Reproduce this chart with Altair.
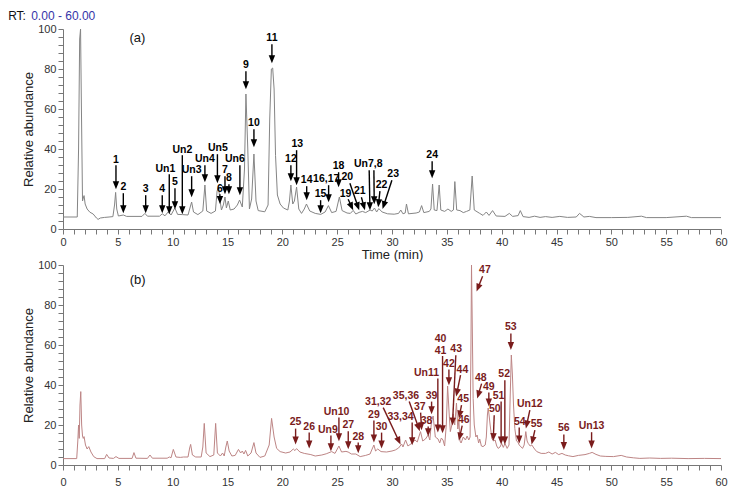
import math
import altair as alt
import pandas as pd

PANEL_W = 658
PANEL_H = 200
PX_T = PANEL_W / 60.0
PX_V = PANEL_H / 100.0
HEAD = 8.0

# ---------------- panel (a) trace ----------------
A_POINTS = [
    (0.0, 6.0), (1.3, 6.0), (1.42, 40), (1.52, 95), (1.6, 100), (1.68, 60), (1.78, 14), (1.85, 15.5),
    (1.92, 16.7), (2.02, 12.5), (2.2, 10), (2.45, 8.4), (2.75, 7.5), (3.05, 5.5), (3.2, 4.8), (3.4, 5.5),
    (3.8, 5.8), (4.2, 6.0), (4.55, 6.2), (4.7, 12), (4.8, 18.3), (4.9, 10), (5.05, 6.5), (5.5, 7.0),
    (5.8, 6.3), (7.2, 6.3), (7.47, 7.8), (7.7, 6.4), (8.8, 6.4), (9.05, 7.6), (9.3, 6.6), (9.6, 8.6),
    (9.85, 7), (10.05, 9), (10.2, 10.5), (10.45, 7.3), (10.9, 7.2), (11.4, 7.0), (11.6, 11), (11.73, 13.5),
    (11.9, 8.5), (12.3, 7.2), (12.75, 9), (12.94, 22), (13.1, 9), (13.5, 7.8), (13.9, 9), (14.05, 19),
    (14.18, 21), (14.3, 15), (14.45, 9.5), (14.62, 12), (14.77, 16), (14.9, 10.5), (15.07, 14), (15.25, 9.5),
    (15.6, 10), (15.9, 12), (16.1, 14.5), (16.35, 11), (16.55, 30), (16.68, 67.5), (16.85, 40), (17.0, 10),
    (17.2, 15), (17.41, 37.5), (17.6, 14), (17.8, 9.2), (18.4, 8.6), (18.7, 12), (18.85, 55), (19.0, 80),
    (19.12, 80.5), (19.25, 70), (19.38, 36.7), (19.55, 17), (19.8, 12.5), (20.1, 10.5), (20.5, 9.5),
    (20.65, 14), (20.78, 22), (20.95, 12.5), (21.1, 14), (21.3, 21), (21.5, 10), (21.75, 7.8), (22.0, 10),
    (22.2, 12.5), (22.5, 9), (23.0, 7.8), (23.5, 7.3), (23.9, 8.5), (24.2, 11.7), (24.5, 8.2), (24.9, 8.8),
    (25.2, 16), (25.45, 9.2), (25.9, 8), (26.2, 7.8), (26.46, 9.3), (26.7, 7.5), (27.0, 8.3), (27.3, 8.8),
    (27.6, 8.2), (28.0, 9.5), (28.2, 9), (28.4, 10.5), (28.6, 8.5), (28.8, 10.2), (29.1, 8.5), (29.6, 7.6),
    (30.2, 7.4), (30.6, 7.8), (30.8, 9.5), (31.0, 7.6), (31.2, 8), (31.32, 12.5), (31.5, 7.6), (32.2, 8),
    (32.5, 8.5), (32.7, 11.7), (32.9, 8.2), (33.4, 8.8), (33.55, 10), (33.7, 22.5), (33.85, 9.5), (34.1, 9.2),
    (34.3, 22), (34.45, 9.5), (34.8, 8.8), (35.1, 10), (35.4, 8.8), (35.6, 9.5), (35.73, 23.7), (35.9, 9.5),
    (36.2, 9.2), (36.5, 8.2), (36.8, 8.8), (37.1, 9.5), (37.31, 26.5), (37.5, 9.5), (38.0, 7.8), (38.3, 6.8),
    (38.6, 8.5), (38.85, 6.8), (39.17, 9.2), (39.5, 6.5), (40.3, 6.3), (40.7, 7.8), (41.0, 6.3), (41.5, 6.7),
    (41.7, 9.2), (41.95, 6.2), (42.5, 5.8), (43.0, 6.4), (43.5, 5.8), (44.0, 6.2), (44.6, 5.8), (45.3, 6.3),
    (46.0, 5.8), (46.8, 6.0), (47.1, 7.8), (47.5, 6.0), (48.0, 6.3), (48.6, 5.7), (50.0, 5.7), (51.5, 5.8),
    (52.75, 6.4), (53.2, 5.7), (55.0, 5.7), (56.85, 6.4), (57.3, 5.7), (60.0, 5.7),
]

# ---------------- panel (b) trace ----------------
B_POINTS = [
    (0.0, 3.2), (1.25, 3.2), (1.35, 12), (1.42, 20), (1.48, 13.3), (1.55, 30), (1.62, 36.7), (1.7, 20),
    (1.78, 14.5), (1.85, 13.3), (1.92, 14.2), (2.05, 10), (2.2, 8), (2.35, 9.2), (2.55, 6.5), (2.8, 4.2),
    (3.1, 3.2), (3.8, 3.2), (3.98, 5.3), (4.2, 3.5), (4.6, 3.3), (4.83, 4.2), (5.1, 3.3), (6.3, 3.3),
    (6.47, 6.2), (6.65, 3.4), (7.7, 3.3), (7.93, 5), (8.15, 3.4), (9.5, 3.4), (9.7, 4), (9.85, 3.6),
    (10.06, 7.8), (10.3, 4), (10.7, 3.8), (11.0, 4), (11.4, 4), (11.55, 8.5), (11.64, 10.3), (11.8, 5),
    (12.1, 4), (12.6, 4), (12.75, 9), (12.88, 20.8), (13.05, 6), (13.4, 4.2), (13.75, 5), (13.92, 20.8),
    (14.08, 6), (14.35, 4.5), (14.55, 6), (14.7, 4.5), (14.85, 9), (14.98, 12), (15.15, 7), (15.4, 4.5),
    (15.7, 4.8), (16.0, 7.8), (16.2, 6), (16.35, 7), (16.5, 5.5), (16.65, 7.3), (16.85, 4.5), (17.15, 6),
    (17.41, 11.2), (17.6, 6), (17.96, 3.8), (18.4, 4.5), (18.8, 10), (19.02, 23.3), (19.25, 14), (19.48, 8.3),
    (19.8, 6.7), (20.3, 6), (20.7, 6.5), (21.0, 8), (21.15, 7.2), (21.3, 8.2), (21.6, 6.5), (22.0, 5.8),
    (22.6, 5.2), (23.0, 4.5), (23.6, 5), (24.0, 5.6), (24.5, 6.7), (24.8, 5.8), (25.16, 9.5), (25.4, 6.5),
    (25.8, 6.8), (26.0, 6.5), (26.3, 5.5), (26.7, 5.5), (27.1, 4.2), (27.6, 4.8), (28.0, 5.5), (28.15, 7.5),
    (28.35, 10), (28.5, 7), (28.7, 8), (29.0, 6.7), (29.5, 6.5), (30.0, 7), (30.3, 7.5), (30.6, 8.5),
    (30.88, 10.5), (31.0, 9), (31.24, 12.5), (31.45, 9.5), (31.8, 10.8), (32.1, 12.5), (32.3, 11.5),
    (32.6, 16.7), (32.8, 12), (33.05, 13), (33.3, 15), (33.45, 12.5), (33.6, 21.7), (33.75, 24.5),
    (33.95, 14), (34.2, 13), (34.35, 11), (34.5, 13.5), (34.65, 12.5), (34.8, 9.5), (34.95, 20),
    (35.07, 39.5), (35.22, 25), (35.32, 16.7), (35.45, 20), (35.58, 25.5), (35.72, 20), (35.88, 31),
    (36.0, 18), (36.1, 22), (36.2, 12), (36.3, 11), (36.5, 14), (36.7, 12.5), (36.85, 14.5), (37.0, 12.5),
    (37.12, 14), (37.2, 60), (37.25, 100), (37.32, 70), (37.4, 33.3), (37.5, 20), (37.65, 14), (37.76, 15),
    (37.9, 11), (38.0, 13), (38.15, 9.5), (38.3, 9.2), (38.5, 10), (38.6, 14), (38.7, 25), (38.77, 28.5),
    (38.85, 25), (38.95, 20), (39.1, 13.3), (39.25, 12), (39.4, 12.5), (39.55, 9.5), (39.68, 8.3),
    (39.85, 9), (40.0, 10.8), (40.15, 8.8), (40.3, 10.8), (40.5, 8.3), (40.67, 10), (40.78, 35), (40.88, 55),
    (40.98, 45), (41.08, 30), (41.2, 18.3), (41.35, 12), (41.45, 11.7), (41.6, 10), (41.9, 8.3), (42.05, 10),
    (42.2, 16.7), (42.32, 12), (42.42, 10.8), (42.6, 9.5), (42.75, 10), (43.0, 8), (43.2, 6.7), (43.6, 5.8),
    (44.0, 5.8), (44.3, 6.5), (44.6, 5.5), (44.9, 6.3), (45.2, 5.2), (45.5, 5.8), (45.8, 5.0), (46.1, 4.6),
    (46.5, 4.2), (47.0, 4.8), (47.6, 5.2), (48.0, 5.8), (48.25, 6.3), (48.6, 5.3), (49.0, 4.5), (49.5, 4.3),
    (50.2, 4.2), (50.9, 4.8), (51.4, 4.0), (52.0, 3.6), (52.6, 3.3), (53.5, 3.5), (54.5, 3.3), (55.5, 3.4),
    (57.0, 3.2), (58.5, 3.3), (60.0, 3.2),
]

# ---------------- annotations (a) ----------------
A_LABELS = [
    ("1", 4.83, 34.4), ("2", 5.5, 20.9), ("3", 7.54, 19.9), ("4", 9.05, 19.9), ("Un1", 9.33, 29.9),
    ("5", 10.21, 23.4), ("Un2", 10.88, 39.4), ("Un3", 11.73, 29.4), ("Un4", 12.94, 34.9), ("Un5", 14.13, 40.4),
    ("6", 14.31, 19.9), ("7", 14.77, 29.4), ("8", 15.13, 25.4), ("Un6", 15.68, 34.9), ("9", 16.68, 81.9),
    ("10", 17.41, 52.9), ("11", 19.05, 95.4), ("12", 20.78, 34.9), ("13", 21.36, 42.4), ("14", 22.22, 24.4),
    ("15", 23.49, 17.4), ("16,17", 24.0, 24.9), ("18", 25.13, 31.4), ("19", 25.77, 17.4), ("20", 25.92, 25.9),
    ("21", 27.07, 18.9), ("Un7,8", 27.83, 32.4), ("22", 29.05, 21.9), ("23", 30.11, 27.4), ("24", 33.66, 36.9),
]
A_ARROWS = [
    (4.83, 31.9, 4.83, 19.9), (5.5, 17.9, 5.5, 7.9), (7.54, 16.9, 7.54, 7.9), (9.05, 16.9, 9.05, 7.9),
    (9.69, 27.4, 9.69, 7.4), (10.21, 20.4, 10.21, 9.9), (10.88, 36.9, 10.88, 7.4), (11.73, 26.4, 11.73, 15.9),
    (12.94, 31.9, 12.94, 23.4), (14.08, 37.4, 14.08, 22.9), (14.31, 17.4, 14.31, 12.5), (14.77, 26.4, 14.77, 17.4),
    (15.13, 22.4, 15.13, 17.4), (16.13, 31.9, 16.13, 16.9), (16.68, 78.9, 16.68, 69.9), (17.41, 49.9, 17.41, 40.9),
    (19.05, 92.4, 19.05, 82.9), (20.78, 31.9, 20.78, 23.9), (21.3, 39.4, 21.3, 21.9), (22.22, 21.4, 22.22, 14.4),
    (23.49, 14.4, 23.49, 7.9), (24.22, 21.9, 24.22, 13.4), (25.13, 28.4, 25.13, 20.9), (26.0, 14.9, 26.46, 9.4),
    (26.16, 22.9, 27.01, 9.4), (27.21, 15.9, 27.53, 9.4), (27.92, 29.4, 27.99, 9.4), (28.35, 29.4, 28.38, 12.4),
    (28.9, 18.9, 28.74, 10.9), (29.99, 24.4, 29.14, 10.0), (33.66, 33.9, 33.66, 25.4),
]

# ---------------- annotations (b) ----------------
B_LABELS = [
    ("25", 21.21, 21.3), ("26", 22.45, 19.2), ("Un9", 24.16, 17.5), ("Un10", 24.95, 26.7), ("27", 26.01, 20.0),
    ("28", 26.92, 13.8), ("29", 28.35, 25.0), ("30", 29.05, 18.8), ("31,32", 28.74, 31.7), ("33,34", 30.78, 23.8),
    ("35,36", 31.27, 34.7), ("37", 32.54, 29.2), ("38", 33.15, 22.2), ("39", 33.61, 34.7), ("Un11", 33.15, 45.8),
    ("40", 34.43, 63.0), ("41", 34.43, 56.8), ("42", 35.19, 50.5), ("43", 35.85, 57.8), ("44", 36.42, 47.7),
    ("45", 36.49, 32.8), ("46", 36.55, 22.5), ("47", 38.47, 97.5), ("48", 38.1, 43.7), ("49", 38.83, 39.2),
    ("50", 39.38, 28.0), ("51", 39.72, 34.5), ("52", 40.23, 45.3), ("53", 40.84, 68.8), ("54", 41.66, 21.7),
    ("Un12", 42.57, 30.3), ("55", 43.18, 20.3), ("56", 45.67, 18.3), ("Un13", 48.2, 19.5),
]
B_ARROWS = [
    (21.21, 18.2, 21.21, 10.2), (22.45, 16.2, 22.45, 8.2), (24.43, 14.7, 24.43, 6.9), (25.16, 23.7, 25.16, 11.9),
    (26.01, 16.9, 26.01, 7.9), (26.92, 11.2, 26.92, 5.9), (28.35, 22.2, 28.35, 11.2), (29.05, 16.2, 29.05, 8.2),
    (29.2, 28.7, 30.78, 10.2), (31.84, 21.2, 31.84, 9.9), (31.57, 31.7, 32.54, 16.9), (32.61, 26.2, 32.7, 17.4),
    (33.3, 19.2, 33.3, 14.4), (33.61, 31.7, 33.61, 25.4), (34.18, 43.2, 34.18, 16.2), (34.61, 54.5, 34.61, 15.9),
    (35.19, 47.7, 35.19, 39.9), (35.82, 54.9, 35.51, 19.7), (36.25, 44.9, 35.85, 34.2), (36.34, 29.9, 36.1, 23.3),
    (36.4, 19.7, 36.1, 12.2), (38.26, 94.4, 37.71, 86.7), (38.17, 40.7, 37.77, 33.3), (38.83, 36.2, 38.83, 29.2),
    (39.32, 24.9, 39.23, 12.0), (39.95, 31.7, 39.95, 10.3), (40.29, 42.4, 40.29, 10.3), (40.84, 65.7, 40.84, 57.5),
    (41.6, 18.7, 41.6, 10.8), (42.57, 27.4, 42.21, 18.3), (43.03, 17.4, 42.73, 10.3), (45.67, 15.2, 45.67, 7.5),
    (48.2, 16.4, 48.2, 8.3),
]

TAG_A = ("(a)", 6.79, 95.6)
TAG_B = ("(b)", 6.81, 92.5)
RT_TEXT = [("RT:", -5.0, 106.6, "#111111"), ("0.00 - 60.00", -2.9, 106.6, "#3535a8")]

FONT = "Liberation Sans"
HEAD_SHAPE = "M -0.8 -1 L 0.8 -1 L 0 1 Z"


def make_x_axis(label_pad):
    return alt.Axis(values=list(range(0, 61)),
                    labelExpr="datum.value % 5 === 0 ? datum.label : ''",
                    title="Time (min)", tickSize=5, labelOverlap=False, labelFlush=False,
                    labelPadding=label_pad, titlePadding=1)


Y_AXIS = alt.Axis(values=list(range(0, 101, 4)),
                  labelExpr="datum.value % 20 === 0 ? datum.label : ''",
                  title="Relative abundance", tickSize=5, labelOverlap=False, labelFlush=False,
                  labelPadding=2, titlePadding=2)


def arrow_frames(arrows):
    lines, heads = [], []
    for (t1, v1, t2, v2) in arrows:
        dx = (t2 - t1) * PX_T
        dy = -(v2 - v1) * PX_V
        L = math.hypot(dx, dy)
        ux, uy = dx / L, dy / L
        back = HEAD / 2.0
        tc = t2 - back * ux / PX_T
        vc = v2 + back * uy / PX_V
        ang = math.degrees(math.atan2(-ux, uy)) % 360
        lines.append({"t": t1, "v": v1, "t2": tc, "v2": vc})
        heads.append({"t": tc, "v": vc, "angle": ang})
    return pd.DataFrame(lines), pd.DataFrame(heads)


def panel(points, labels, arrows, line_color, note_color, tag, x_axis, extra=None):
    def xe():
        return alt.X("t:Q", scale=alt.Scale(domain=[0, 60], nice=False, zero=False), axis=x_axis)

    def ye():
        return alt.Y("v:Q", scale=alt.Scale(domain=[0, 100], nice=False, zero=False), axis=Y_AXIS)

    tr = pd.DataFrame(points, columns=["t", "v"])
    lab = pd.DataFrame(labels, columns=["label", "t", "v"])
    lines, heads = arrow_frames(arrows)
    layers = [
        alt.Chart(tr).mark_line(color=line_color, strokeWidth=1, clip=False).encode(x=xe(), y=ye()),
        alt.Chart(lines).mark_rule(color=note_color, strokeWidth=1.4).encode(
            x=xe(), y=ye(), x2="t2:Q", y2="v2:Q"),
        alt.Chart(heads).mark_point(shape=HEAD_SHAPE, filled=True, size=HEAD * HEAD, opacity=1,
                                    color=note_color, strokeWidth=0).encode(
            x=xe(), y=ye(), angle=alt.Angle("angle:Q", scale=None)),
        alt.Chart(lab).mark_text(font=FONT, fontSize=10.5, fontWeight="bold", color=note_color,
                                 baseline="middle", align="center").encode(
            x=xe(), y=ye(), text="label:N"),
        alt.Chart(pd.DataFrame([tag], columns=["label", "t", "v"])).mark_text(
            font=FONT, fontSize=13, color="#111111", baseline="middle", align="center").encode(
            x=xe(), y=ye(), text="label:N"),
    ]
    if extra:
        for (txt, t, v, col) in extra:
            layers.append(
                alt.Chart(pd.DataFrame([{"label": txt, "t": t, "v": v}])).mark_text(
                    font=FONT, fontSize=12, color=col, baseline="middle", align="left").encode(
                    x=xe(), y=ye(), text="label:N"))
    return alt.layer(*layers).properties(width=PANEL_W, height=PANEL_H)


pa = panel(A_POINTS, A_LABELS, A_ARROWS, "#858585", "#000000", TAG_A, make_x_axis(2), RT_TEXT)
pb = panel(B_POINTS, B_LABELS, B_ARROWS, "#bd8585", "#7a1c1c", TAG_B, make_x_axis(6))

chart = alt.vconcat(pa, pb, spacing=36, bounds="flush").properties(
    padding={"left": 0, "top": 1, "right": 5, "bottom": 0},
    background="white",
).configure_view(stroke=None).configure_axis(
    grid=False,
    domainColor="#777777",
    tickColor="#777777",
    labelColor="#333333",
    titleColor="#222222",
    labelFont=FONT,
    titleFont=FONT,
    labelFontSize=11,
    titleFontSize=13,
    titleFontWeight="normal",
)

chart.save("out.html", embed_options={"renderer": "svg", "actions": False})
